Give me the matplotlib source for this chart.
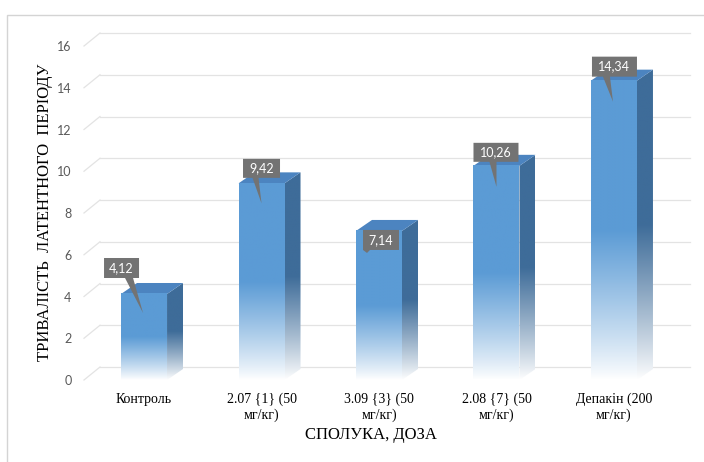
import numpy as np
import matplotlib.pyplot as plt
from matplotlib.patches import Polygon, Rectangle
from matplotlib.transforms import Affine2D
from matplotlib.colors import to_rgb

# дані: сполука / доза та тривалість латентного періоду
categories = ['Контроль', '2.07 {1} (50\nмг/кг)', '3.09 {3} (50\nмг/кг)',
              '2.08 {7} (50\nмг/кг)', 'Депакін (200\nмг/кг)']
values = [4.12, 9.42, 7.14, 10.26, 14.34]
value_labels = ['4,12', '9,42', '7,14', '10,26', '14,34']
y_ticks = [0, 2, 4, 6, 8, 10, 12, 14, 16]

# кольори
FRONT = '#5B9BD5'
SIDE = '#3E6C99'
TOP = '#4C84C0'
GRID = '#E3E3E3'
CALLOUT = '#737373'

W, H = 704, 462
fig = plt.figure(figsize=(W / 100, H / 100), dpi=100)
ax = fig.add_axes([84 / W, 82 / H, 590 / W, 334 / H])
xmin, xmax = -0.511, 4.511
ax.set_xlim(xmin, xmax)
ax.set_ylim(0, 16)

# пікселі на одиницю даних
ppx = 590 / (xmax - xmin)
ppy = 334 / 16
bar_w = 46 / ppx
bdx, bdy = 16 / ppx, 11 / ppy      # глибина стовпця
wdx, wdy = 16 / ppx, 13 / ppy      # задня стінка

for s in ax.spines.values():
    s.set_visible(False)

# сітка на задній стінці + діагоналі підлоги
for v in y_ticks:
    ax.plot([xmin + wdx, xmax + wdx], [v + wdy, v + wdy], color=GRID, lw=0.9,
            zorder=0, clip_on=False)
    ax.plot([xmin, xmin + wdx], [v, v + wdy], color=GRID, lw=0.9,
            zorder=0, clip_on=False)


def gradient(base, n=200, fade=0.5):
    t = np.linspace(0, 1, n)
    a = np.clip(t / fade, 0, 1) ** 0.9
    c = np.array(to_rgb(base))
    rgb = (1 - a)[:, None] * 1.0 + a[:, None] * c[None, :]
    return rgb[:, None, :]


for i, v in enumerate(values):
    x0, x1 = i - bar_w / 2, i + bar_w / 2
    # бічна грань
    side = Polygon([(x1, 0), (x1, v), (x1 + bdx, v + bdy), (x1 + bdx, bdy)],
                   closed=True, facecolor='none', edgecolor='none')
    ax.add_patch(side)
    im = ax.imshow(gradient(SIDE), origin='lower', aspect='auto',
                   extent=(x1, x1 + bdx, 0, v + bdy), interpolation='bilinear',
                   zorder=2)
    im.set_clip_path(side)
    # верхня грань
    ax.add_patch(Polygon([(x0, v), (x1, v), (x1 + bdx, v + bdy), (x0 + bdx, v + bdy)],
                         closed=True, facecolor=TOP, edgecolor='none', zorder=2))
    # передня грань
    ax.imshow(gradient(FRONT), origin='lower', aspect='auto',
              extent=(x0, x1, 0, v), interpolation='bilinear', zorder=3)

ax.set_xlim(xmin, xmax)
ax.set_ylim(0, 16)

# підписи значень (виноски)
callouts = [
    # центр блоку, ширина, висота, вістря, основа вказівника (px)
    ((-22.5, 26), 35, 20, (-1, -19), (-19, -11)),
    ((0, 15), 37, 19, (0, -20), (-9, -3)),
    ((2, -9), 36, 20, (-12, -22), (-16, -9)),
    ((-0.5, 13.5), 45, 19, (0, -21), (-7, 0)),
    ((0.5, 14), 45, 20, (-1, -21), (-11, -4)),
]
for i, (v, lab) in enumerate(zip(values, value_labels)):
    ax_px, ay_px = ax.transData.transform((i, v))
    (cx, cy), bw, bh, (tx, ty), (b0, b1) = callouts[i]
    top = cy + bh / 2
    bot = cy - bh / 2
    pts = [(cx - bw / 2, top), (cx + bw / 2, top), (cx + bw / 2, bot),
           (b1, bot), (tx, ty), (b0, bot), (cx - bw / 2, bot)]
    tr = Affine2D().translate(ax_px, ay_px)
    fig.add_artist(Polygon(pts, closed=True, facecolor=CALLOUT, edgecolor='none',
                           transform=tr, zorder=5))
    fig.text((ax_px + cx) / W, (ay_px + cy) / H, lab, color='white', fontsize=9,
             family=['Lato', 'DejaVu Sans'], ha='center', va='center', zorder=6)

# осі
ax.set_yticks(y_ticks)
ax.set_yticklabels([str(t) for t in y_ticks], color='#595959', fontsize=9,
                   family=['Lato', 'DejaVu Sans'])
ax.tick_params(axis='y', length=0, pad=9)
ax.set_xticks(range(len(categories)))
ax.set_xticklabels(categories, fontsize=10, family='Liberation Serif',
                   linespacing=1.25)
ax.tick_params(axis='x', length=0, pad=9)

fig.text(371 / W, 1 - 435 / H, 'СПОЛУКА, ДОЗА', fontsize=12,
         family='Liberation Serif', ha='center', va='center')
fig.text(45 / W, 1 - 212 / H, 'ТРИВАЛІСТЬ  ЛАТЕНТНОГО  ПЕРІОДУ', fontsize=12,
         family='Liberation Serif', ha='center', va='center', rotation=90)

# рамка області діаграми
fig.add_artist(Rectangle((7.5 / W, -0.05), 1.0, 1 - 15 / H + 0.05,
                         transform=fig.transFigure, facecolor='none',
                         edgecolor='#D4D4D4', lw=1))

fig.savefig('out.png', dpi=100)
